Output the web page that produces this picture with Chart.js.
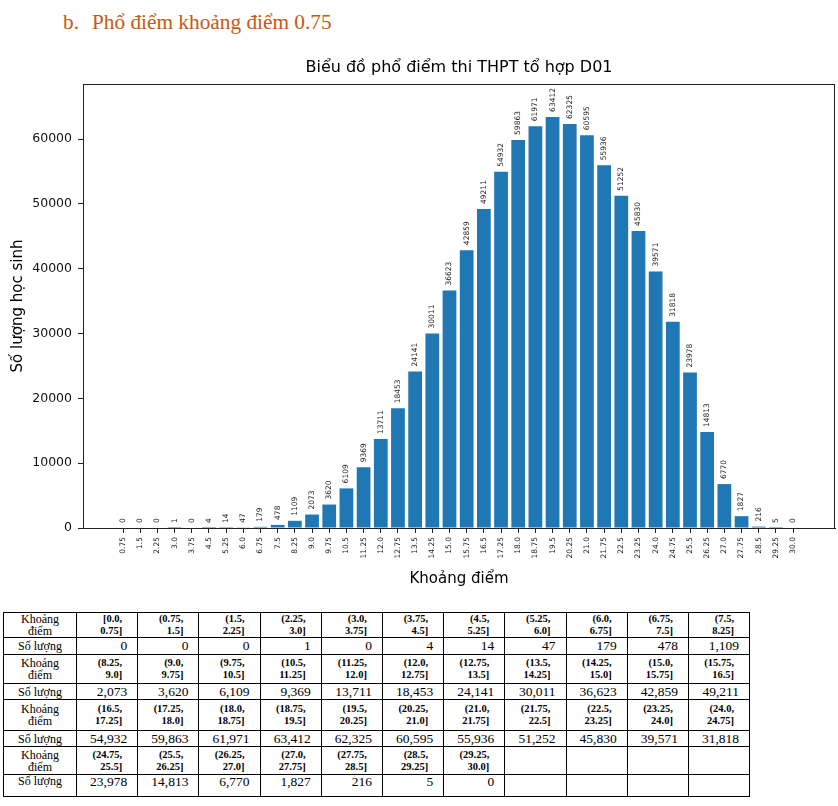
<!DOCTYPE html>
<html lang="vi">
<head>
<meta charset="utf-8">
<script src="https://cdn.jsdelivr.net/npm/chart.js@4.4.1/dist/chart.umd.min.js"></script>
<style>
  html, body { margin: 0; padding: 0; background: #fff; }
  body { width: 838px; height: 806px; position: relative; overflow: hidden; }
  .heading { position: absolute; top: 12px; font-family: "Liberation Serif", serif; font-size: 21.3px; line-height: 1; color: #C55A11; white-space: nowrap; }
  #chartWrap { position: absolute; left: 0; top: 40px; width: 838px; height: 560px; }
  table { position: absolute; left: 3px; top: 612px; border-collapse: collapse; table-layout: fixed; width: 746px; font-family: "Liberation Serif", serif; color: #000; }
  td { border: 1.3px solid #000; padding: 0; overflow: hidden; }
  td.lab { text-align: center; font-size: 12px; line-height: 12px; }
  td.iv { text-align: right; font-weight: bold; font-size: 10.5px; line-height: 12px; padding-right: 15px; }
  td.num { text-align: right; font-size: 13.5px; line-height: 14px; padding-right: 10px; }
</style>
</head>
<body>
<div class="heading" style="left:63px">b.</div>
<div class="heading" style="left:92px">Phổ điểm khoảng điểm 0.75</div>
<div id="chartWrap"><canvas id="c" width="838" height="560"></canvas></div>
<table id="tbl"></table>
<script>
// ---- data ----
const tickLabels = ['0.75','1.5','2.25','3.0','3.75','4.5','5.25','6.0','6.75','7.5',
  '8.25','9.0','9.75','10.5','11.25','12.0','12.75','13.5','14.25','15.0',
  '15.75','16.5','17.25','18.0','18.75','19.5','20.25','21.0','21.75','22.5',
  '23.25','24.0','24.75','25.5','26.25','27.0','27.75','28.5','29.25','30.0'];
const counts = [0,0,0,1,0,4,14,47,179,478,
  1109,2073,3620,6109,9369,13711,18453,24141,30011,36623,
  42859,49211,54932,59863,61971,63412,62325,60595,55936,51252,
  45830,39571,31818,23978,14813,6770,1827,216,5,0];
const yTickValues = [0,10000,20000,30000,40000,50000,60000];
const chartTitle = 'Biểu đồ phổ điểm thi THPT tổ hợp D01';
const xTitle = 'Khoảng điểm';
const yTitle = 'Số lượng học sinh';
const rowLabelCount = 'Số lượng';
const yMax = 68485;
const xMin = -1, xMax = 31.83;

const binPositions = tickLabels.map(Number);
const barPoints = binPositions.map((x, i) => ({x: x, y: counts[i]}));

Chart.defaults.font.family = 'DejaVu Sans';

const frameAndLabels = {
  id: 'frameAndLabels',
  afterDatasetsDraw(chart) {
    const ctx = chart.ctx;
    const meta = chart.getDatasetMeta(0);
    ctx.save();
    ctx.font = '7.5px "DejaVu Sans"';
    ctx.fillStyle = '#222';
    ctx.textAlign = 'left';
    ctx.textBaseline = 'middle';
    meta.data.forEach((bar, i) => {
      ctx.save();
      ctx.translate(bar.x, bar.y - 5);
      ctx.rotate(-Math.PI / 2);
      ctx.fillText(String(counts[i]), 0, 0);
      ctx.restore();
    });
    ctx.restore();
  },
  afterDraw(chart) {
    const a = chart.chartArea;
    const ctx = chart.ctx;
    ctx.save();
    ctx.strokeStyle = '#222';
    ctx.lineWidth = 1;
    ctx.strokeRect(Math.round(a.left) + 0.5, Math.round(a.top) + 0.5, Math.round(a.right - a.left) - 1, Math.round(a.bottom - a.top));
    ctx.restore();
  }
};

new Chart(document.getElementById('c'), {
  type: 'bar',
  data: {
    datasets: [{
      data: barPoints,
      backgroundColor: '#1f77b4',
      borderWidth: 0,
      barPercentage: 0.8,
      categoryPercentage: 1.0
    }]
  },
  options: {
    responsive: false,
    animation: false,
    devicePixelRatio: 1,
    layout: { padding: { left: 0, right: 3, top: 0, bottom: 0 } },
    plugins: {
      legend: { display: false },
      tooltip: { enabled: false },
      title: {
        display: true,
        fullSize: false,
        text: chartTitle,
        color: '#000',
        font: { family: 'DejaVu Sans', size: 16, weight: 'normal' },
        padding: { top: 18.4, bottom: 6.4 }
      }
    },
    scales: {
      x: {
        type: 'linear',
        min: xMin,
        max: xMax,
        offset: false,
        grid: { offset: false, drawOnChartArea: false, drawTicks: true, tickLength: 5, color: '#222' },
        border: { color: '#222' },
        afterBuildTicks(scale) { scale.ticks = binPositions.map(v => ({ value: v })); },
        afterFit(scale) { scale.height = 72; },
        ticks: {
          autoSkip: false,
          minRotation: 90,
          maxRotation: 90,
          padding: 4,
          color: '#222',
          font: { size: 7.5 },
          callback: (v, i) => tickLabels[i]
        },
        title: {
          display: true,
          text: xTitle,
          color: '#000',
          font: { size: 15 },
          padding: { top: 0, bottom: 12 }
        }
      },
      y: {
        min: 0,
        max: yMax,
        grid: { drawOnChartArea: false, drawTicks: true, tickLength: 5, color: '#222' },
        border: { color: '#222' },
        afterBuildTicks(scale) { scale.ticks = yTickValues.map(v => ({ value: v })); },
        afterFit(scale) { scale.width = 83; },
        ticks: {
          padding: 6,
          color: '#111',
          font: { size: 12.5 },
          callback: v => String(v)
        },
        title: {
          display: true,
          text: yTitle,
          color: '#000',
          font: { size: 15 },
          padding: { top: 9, bottom: 0 }
        }
      }
    }
  },
  plugins: [frameAndLabels]
});

// ---- table ----
const perRow = 11;
const rowHeights = [[24, 17], [29, 16], [31, 16], [28, 22]];
const tbl = document.getElementById('tbl');
const cg = document.createElement('colgroup');
const c0 = document.createElement('col'); c0.style.width = '73px'; cg.appendChild(c0);
for (let k = 0; k < perRow; k++) { const c = document.createElement('col'); c.style.width = '61.2px'; cg.appendChild(c); }
tbl.appendChild(cg);
for (let r = 0; r * perRow < counts.length; r++) {
  const trI = document.createElement('tr');
  const trN = document.createElement('tr');
  trI.style.height = rowHeights[r][0] + 'px';
  trN.style.height = rowHeights[r][1] + 'px';
  const lI = document.createElement('td'); lI.className = 'lab'; lI.innerHTML = 'Khoảng<br>điểm'; trI.appendChild(lI);
  const lN = document.createElement('td'); lN.className = 'lab'; lN.textContent = rowLabelCount; trN.appendChild(lN);
  for (let k = 0; k < perRow; k++) {
    const i = r * perRow + k;
    const ti = document.createElement('td'); ti.className = 'iv';
    const tn = document.createElement('td'); tn.className = 'num';
    if (i < counts.length) {
      const lower = i === 0 ? '0.0' : tickLabels[i - 1];
      ti.innerHTML = (i === 0 ? '[' : '(') + lower + ',<br>' + tickLabels[i] + ']';
      tn.textContent = counts[i].toLocaleString('en-US');
    }
    trI.appendChild(ti); trN.appendChild(tn);
  }
  if (r === 3) { Array.from(trN.children).forEach(td => { td.style.verticalAlign = 'top'; }); }
  tbl.appendChild(trI); tbl.appendChild(trN);
}
</script>
</body>
</html>
